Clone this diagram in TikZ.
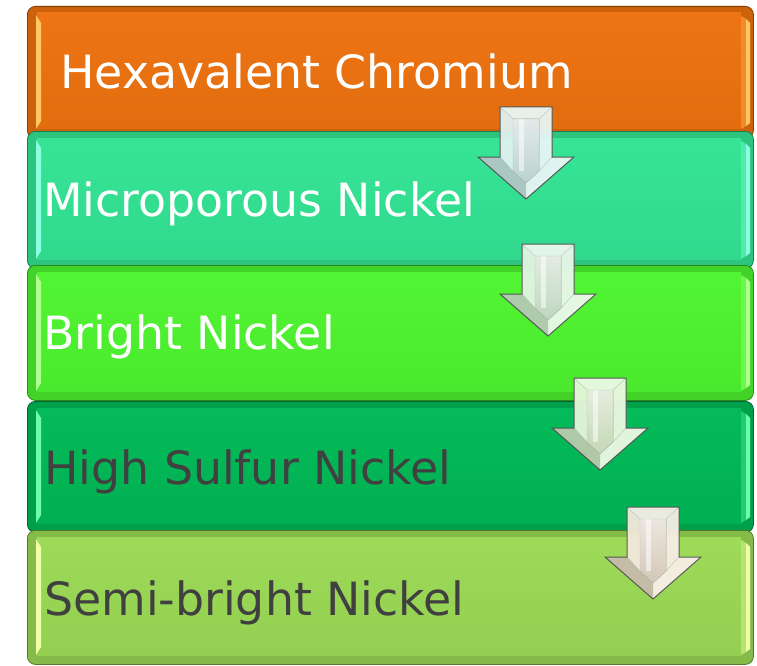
\documentclass[tikz,border=0pt]{standalone}
\usepackage{fontspec}
\setmainfont{DejaVu Sans}
\definecolor{chromeorange}{HTML}{EE720F}
\definecolor{microteal}{HTML}{33E494}
\definecolor{brightlime}{HTML}{4EF52F}
\definecolor{sulfurgreen}{HTML}{00B956}
\definecolor{semilime}{HTML}{9BDA55}
\definecolor{hlorange}{HTML}{FFC862}
\definecolor{hlteal}{HTML}{8CFFE0}
\definecolor{hllime}{HTML}{B0FF90}
\definecolor{hlsulfur}{HTML}{6CFFA8}
\definecolor{hlsemi}{HTML}{F2FFA8}
\definecolor{darktext}{HTML}{404040}
\definecolor{tintblue}{HTML}{D3ECE9}
\definecolor{tintgreen}{HTML}{D6F0D6}
\definecolor{tintlime}{HTML}{DCF2CB}
\definecolor{tintbeige}{HTML}{EEDFCE}
\tikzset{
  x=1pt, y=-1pt,
  layer/.style={rectangle, rounded corners=8pt, line width=0.8pt,
    minimum width=726pt, inner sep=0pt, anchor=north west},
  layertext/.style={anchor=base west, inner sep=0pt,
    font=\fontsize{45.8}{54}\selectfont},
  arrowedge/.style={draw=black!68, line width=1pt, line join=miter},
  facetedge/.style={draw=black!25, line width=0.4pt},
}
% #1 name, #2 top, #3 bottom, #4 face colour, #5 highlight colour
\newcommand\layerbox[5]{%
  \node[layer, fill=#4!86!black, draw=#4!55!black,
        minimum height={(#3-#2)*1pt}] (#1) at (27,#2) {};
  \fill[top color=#4!98!white, bottom color=#4!95!black]
    (37,{#2+7}) rectangle (741,{#3-9});
  \fill[#5] (36,{#2+9}) -- (41,{#2+17}) -- (41,{#3-17}) -- (36,{#3-9}) -- cycle;
  \fill[#4!70!#5] (741,{#2+10}) -- (746,{#2+13}) -- (746,{#3-12}) -- (741,{#3-9}) -- cycle;
  \fill[#5] (746,{#2+13}) -- (750,{#2+17}) -- (750,{#3-15}) -- (746,{#3-12}) -- cycle;
}
% bevelled down arrow: #1 name, #2 centre x, #3 top y, #4 tint
\newcommand\flowarrow[4]{%
  \begin{scope}[shift={(#2,#3)}, opacity=0.95]
    \coordinate (#1) at (0,46);
    \coordinate (#1-A) at (-26,0);  \coordinate (#1-B) at (26,0);
    \coordinate (#1-C) at (26,50);  \coordinate (#1-D) at (48,50);
    \coordinate (#1-E) at (0,92);   \coordinate (#1-F) at (-48,50);
    \coordinate (#1-G) at (-26,50);
    \coordinate (#1-a) at (-13,12); \coordinate (#1-b) at (13,12);
    \coordinate (#1-c) at (13,64);  \coordinate (#1-e) at (0,76);
    \coordinate (#1-g) at (-13,64);
    \fill[#4!50!white] (#1-A) -- (#1-B) -- (#1-b) -- (#1-a) -- cycle;
    \fill[#4!72!white] (#1-A) -- (#1-a) -- (#1-g) -- (#1-G) -- cycle;
    \fill[#4!55!white] (#1-B) -- (#1-C) -- (#1-c) -- (#1-b) -- cycle;
    \fill[#4!84!black] (#1-G) -- (#1-g) -- (#1-e) -- (#1-E) -- (#1-F) -- cycle;
    \fill[#4!50!white] (#1-C) -- (#1-D) -- (#1-E) -- (#1-e) -- (#1-c) -- cycle;
    \fill[left color=#4!40!white, right color=#4!94!black, shading angle=0]
      (#1-a) -- (#1-b) -- (#1-c) -- (#1-e) -- (#1-g) -- cycle;
    \fill[white, opacity=0.55] (-7,12) rectangle (-2,64);
    \draw[facetedge] (#1-A) -- (#1-a) -- (#1-b) -- (#1-B)
      (#1-a) -- (#1-g) -- (#1-e) -- (#1-c) -- (#1-b)
      (#1-G) -- (#1-g) (#1-C) -- (#1-c) (#1-e) -- (#1-E);
    \draw[arrowedge] (#1-A) -- (#1-B) -- (#1-C) -- (#1-D) -- (#1-E)
      -- (#1-F) -- (#1-G) -- cycle;
  \end{scope}%
}
\begin{document}
\begin{tikzpicture}
  \useasboundingbox (0,0) rectangle (757,666);
  \clip (0,0) rectangle (757,666);
  \fill[white] (0,0) rectangle (757,666);

  % plating layers, outermost on top
  \layerbox{chromium}{6}{138}{chromeorange}{hlorange}
  \layerbox{microporous}{131}{268}{microteal}{hlteal}
  \layerbox{bright}{265}{400}{brightlime}{hllime}
  \layerbox{sulfur}{401}{532}{sulfurgreen}{hlsulfur}
  \layerbox{semibright}{530}{664}{semilime}{hlsemi}

  \node[layertext, text=white] (t1) at (60,89) {Hexavalent Chromium};
  \node[layertext, text=white] (t2) at (43,216) {Microporous Nickel};
  \node[layertext, text=white] (t3) at (43,349) {Bright Nickel};
  \node[layertext, text=darktext] (t4) at (44,484) {High Sulfur Nickel};
  \node[layertext, text=darktext] (t5) at (44,615) {Semi-bright Nickel};

  % arrows between consecutive layers
  \flowarrow{ar1}{526}{107}{tintblue}
  \flowarrow{ar2}{548}{244}{tintgreen}
  \flowarrow{ar3}{600}{378}{tintlime}
  \flowarrow{ar4}{653}{507}{tintbeige}
\end{tikzpicture}
\end{document}
